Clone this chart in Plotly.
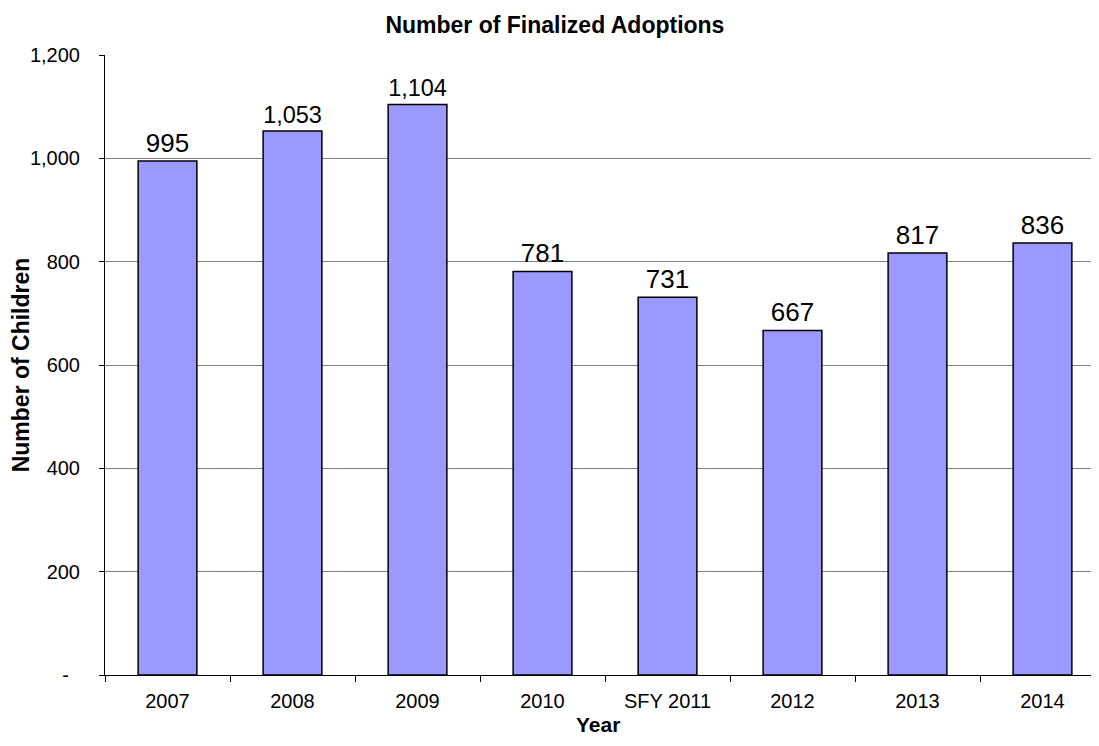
import plotly.graph_objects as go

years = ["2007", "2008", "2009", "2010", "SFY 2011", "2012", "2013", "2014"]
adoptions = [995, 1053, 1104, 781, 731, 667, 817, 836]
y_ticks = [0, 200, 400, 600, 800, 1000, 1200]
y_tick_text = ["-\u2007", "200", "400", "600", "800", "1,000", "1,200"]

FONT = "Liberation Sans, Arial, sans-serif"

fig = go.Figure(go.Bar(
    x=years, y=adoptions,
    marker=dict(color="#9999FF", line=dict(color="black", width=1.5)),
    width=0.47,
    text=[f"{v:,}" for v in adoptions],
    textposition="outside",
    textfont=dict(size=26, color="black", family=FONT),
    cliponaxis=False,
))

fig.update_layout(
    width=1083, height=730, autosize=False,
    margin=dict(l=97, r=0, t=47, b=63),
    plot_bgcolor="white", paper_bgcolor="white",
    font=dict(family=FONT, size=20, color="black"),
    title=dict(text="<b>Number of Finalized Adoptions</b>", x=0.505, xanchor="center",
               y=0.977, yanchor="middle", font=dict(size=23)),
    showlegend=False,
    annotations=[dict(text="<b>Year</b>", xref="paper", yref="paper", x=0.5, y=-0.0806,
                      xanchor="center", yanchor="middle", showarrow=False,
                      font=dict(size=21, color="black", family=FONT))],
)
fig.update_xaxes(
    type="category", range=[-0.5, 7.388], automargin=False,
    tickson="boundaries", ticks="outside", ticklen=6, tickcolor="black",
    showline=True, linecolor="black", linewidth=1,
    ticklabelstandoff=8,
    tickfont=dict(size=20),
)
fig.update_yaxes(
    range=[0, 1200], tickvals=y_ticks, ticktext=y_tick_text, automargin=False,
    ticks="outside", ticklen=5, tickcolor="black",
    showline=True, linecolor="black", linewidth=1,
    showgrid=True, gridcolor="#808080", gridwidth=1,
    zeroline=False, ticklabelstandoff=15,
    title=dict(text="<b>Number of Children</b>", font=dict(size=23), standoff=6),
    tickfont=dict(size=20),
)
fig.write_html("out.html")
